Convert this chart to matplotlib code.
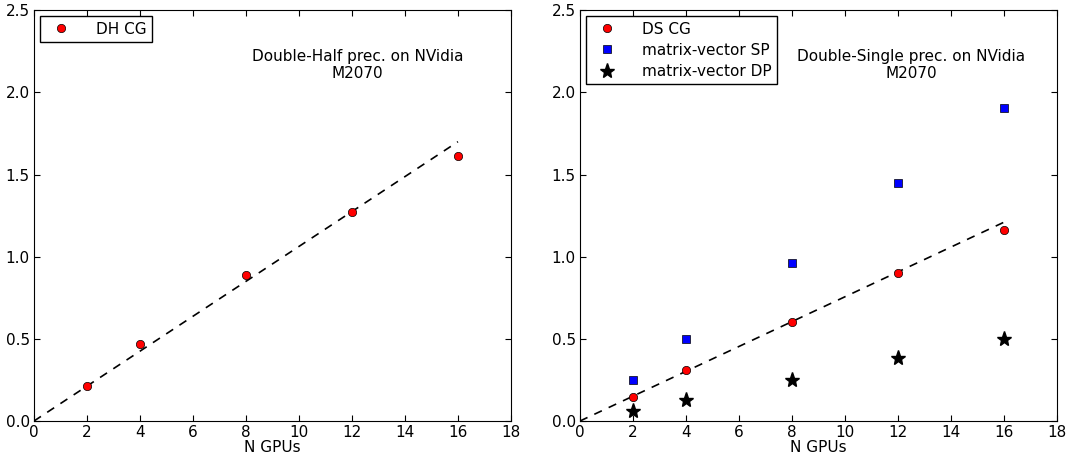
import matplotlib
matplotlib.use("Agg")
import matplotlib.pyplot as plt

gpus = [2, 4, 8, 12, 16]
dh_cg = [0.213, 0.468, 0.888, 1.271, 1.612]
ds_cg = [0.146, 0.31, 0.60, 0.90, 1.163]
mv_sp = [0.25, 0.50, 0.963, 1.448, 1.904]
mv_dp = [0.06, 0.128, 0.25, 0.383, 0.50]
fit_x = [0, 16]
fit_dh = [0, 1.70]
fit_ds = [0, 1.21]

fig = plt.figure(figsize=(10.75, 4.62), dpi=100)
ax1 = fig.add_axes([0.0316, 0.0887, 0.4437, 0.8891])
ax2 = fig.add_axes([0.5395, 0.0887, 0.4437, 0.8891])

ax1.plot(fit_x, fit_dh, color='black', linestyle=(0, (5, 4.5)), linewidth=1.2)
ax1.plot(gpus, dh_cg, 'o', color='red', markeredgecolor='black',
         markeredgewidth=0.5, markersize=6, label="DH CG")
ax1.text(12.2, 2.165, "Double-Half prec. on NVidia\nM2070", ha='center',
         va='center', fontsize=11)

ax2.plot(fit_x, fit_ds, color='black', linestyle=(0, (5, 4.5)), linewidth=1.2)
ax2.plot(gpus, ds_cg, 'o', color='red', markeredgecolor='black',
         markeredgewidth=0.5, markersize=6, label="DS CG")
ax2.plot(gpus, mv_sp, 's', color='blue', markeredgecolor='black',
         markeredgewidth=0.5, markersize=6, label="matrix-vector SP")
ax2.plot(gpus, mv_dp, '*', color='black', markersize=11,
         label="matrix-vector DP")
ax2.text(12.5, 2.165, "Double-Single prec. on NVidia\nM2070", ha='center',
         va='center', fontsize=11)

for ax in (ax1, ax2):
    ax.set_xlim(0, 18)
    ax.set_ylim(0, 2.5)
    ax.set_xticks(range(0, 19, 2))
    ax.set_yticks([0, 0.5, 1.0, 1.5, 2.0, 2.5])
    ax.set_yticklabels(["0.0", "0.5", "1.0", "1.5", "2.0", "2.5"])
    ax.tick_params(direction='in', top=True, right=True, labelsize=11,
                   length=4, pad=3)
    ax.set_xlabel("N GPUs", fontsize=11, labelpad=0)
    leg = ax.legend(loc='upper left', numpoints=1, fontsize=11,
                    fancybox=False, framealpha=1, borderaxespad=0.4,
                    handletextpad=1.3, borderpad=0.35, labelspacing=0.4)
    leg.get_frame().set_edgecolor('black')

fig.savefig("out.png", dpi=100)
